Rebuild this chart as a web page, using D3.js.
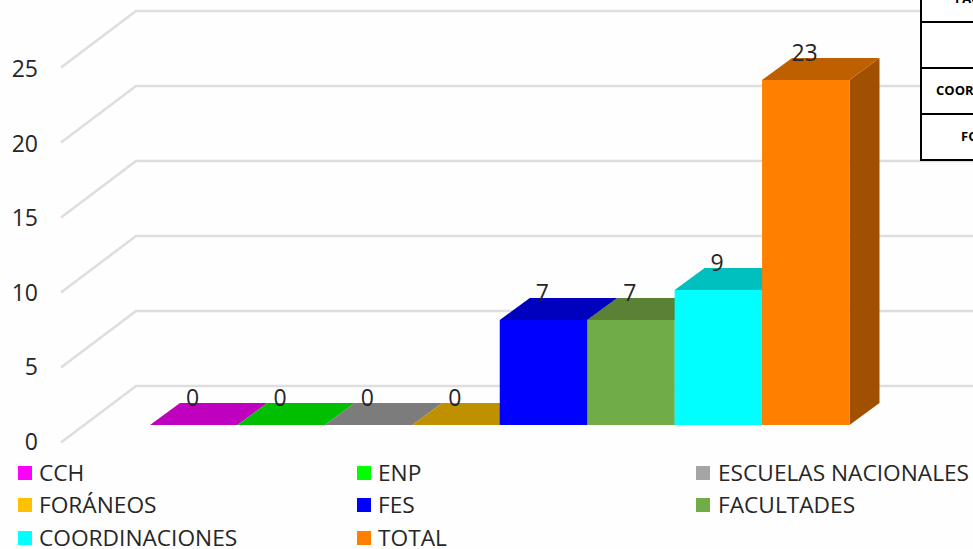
<!DOCTYPE html>
<html><head><meta charset="utf-8">
<script src="https://cdn.jsdelivr.net/npm/d3@7"></script>
<style>html,body{margin:0;padding:0;background:#fff;overflow:hidden}svg{display:block}text{font-family:"Open Sans",sans-serif;fill:#262626}</style>
</head><body><svg id="c" width="973" height="549"></svg>
<script>
const categories = ["CCH","ENP","ESCUELAS NACIONALES","FORÁNEOS","FES","FACULTADES","COORDINACIONES","TOTAL"];
const values = [0,0,0,0,7,7,9,23];
const legendColors = ["#FF00FF","#00FF00","#A5A5A5","#FFC000","#0000FF","#70AD47","#00FFFF","#FF7F00"];
const topColors = ["#BF00BF","#00BF00","#7C7C7C","#BF9000","#0000BF","#5A8235","#00BFBF","#BF6000"];
const sideColors = ["#A000A0","#00A000","#686868","#A07800","#0000A0","#4B6D2C","#00A0A0","#A05000"];
const yTicks = [0,5,10,15,20,25];
const tableRows = ["FAC","","COOR","FO"];
const tableTextX = [955,null,936,961];

const svg = d3.select("#c");
const y = d3.scaleLinear().domain([0,25]).range([386,11]);
const yLabel = d3.scaleLinear().domain([0,25]).range([450,77]);
const x = d3.scaleBand().domain(categories).range([150,849.5]);
const wallDx = 75, wallDy = 56.5;
const depthX = 30, depthY = 22;
const barOffset = 39;
const line = d3.line();
const yb = v => y(v)+barOffset;

svg.append("rect").attr("width",973).attr("height",549).attr("fill","#fefefe");

svg.append("g").selectAll("path").data(yTicks).join("path")
  .attr("d",d=>line([[136-wallDx,y(d)+wallDy],[136,y(d)],[973,y(d)]]))
  .attr("fill","none").attr("stroke","#dedede").attr("stroke-width",2.6);

svg.append("g").selectAll("text").data(yTicks).join("text")
  .attr("x",38).attr("y",d=>yLabel(d)).attr("text-anchor","end")
  .attr("font-size",23).text(d=>d);

const bars = svg.append("g").selectAll("g").data(categories).join("g");
bars.append("path").attr("fill",(d,i)=>sideColors[i])
  .attr("d",(d,i)=>{const r=x(d)+x.bandwidth();return line([[r,yb(0)],[r+depthX,yb(0)-depthY],[r+depthX,yb(values[i])-depthY],[r,yb(values[i])]])+"Z";});
bars.append("rect").attr("fill",(d,i)=>legendColors[i])
  .attr("x",d=>x(d)).attr("width",x.bandwidth())
  .attr("y",(d,i)=>yb(values[i])).attr("height",(d,i)=>yb(0)-yb(values[i]));
bars.append("path").attr("fill",(d,i)=>topColors[i])
  .attr("d",(d,i)=>{const l=x(d),r=l+x.bandwidth(),t=yb(values[i]);return line([[l,t],[l+depthX,t-depthY],[r+depthX,t-depthY],[r,t]])+"Z";});

svg.append("g").selectAll("text").data(categories).join("text")
  .attr("x",d=>x(d)+x.bandwidth()/2-1.2).attr("y",(d,i)=>yb(values[i])-depthY+3)
  .attr("text-anchor","middle").attr("font-size",23).text((d,i)=>values[i]);

const legX=[18,357,696], legY=[473,505,538], legTx=[39,378,718];
const leg = svg.append("g").selectAll("g").data(categories).join("g");
leg.append("rect").attr("x",(d,i)=>legX[i%3]).attr("y",(d,i)=>legY[Math.floor(i/3)]-7)
  .attr("width",14).attr("height",14).attr("fill",(d,i)=>legendColors[i]);
leg.append("text").attr("x",(d,i)=>legTx[i%3]).attr("y",(d,i)=>legY[Math.floor(i/3)]+8)
  .attr("font-size",22.7).text(d=>d);

const tbl = svg.append("g");
const rowY = d3.scaleLinear().domain([0,3]).range([22,160]);
tbl.append("rect").attr("x",920).attr("y",-2).attr("width",60).attr("height",162).attr("fill","#fff");
tbl.selectAll("path").data([0,1,2,3]).join("path")
  .attr("d",d=>line([[920,rowY(d)],[973,rowY(d)]])).attr("stroke","#000").attr("stroke-width",2);
tbl.append("path").attr("d",line([[921,0],[921,161]])).attr("stroke","#000").attr("stroke-width",2);
tbl.selectAll("text").data(tableRows).join("text")
  .attr("x",(d,i)=>tableTextX[i]).attr("y",(d,i)=>rowY(i)-19)
  .attr("font-size",13).attr("font-weight",700).style("fill","#000").text(d=>d);
</script></body></html>
